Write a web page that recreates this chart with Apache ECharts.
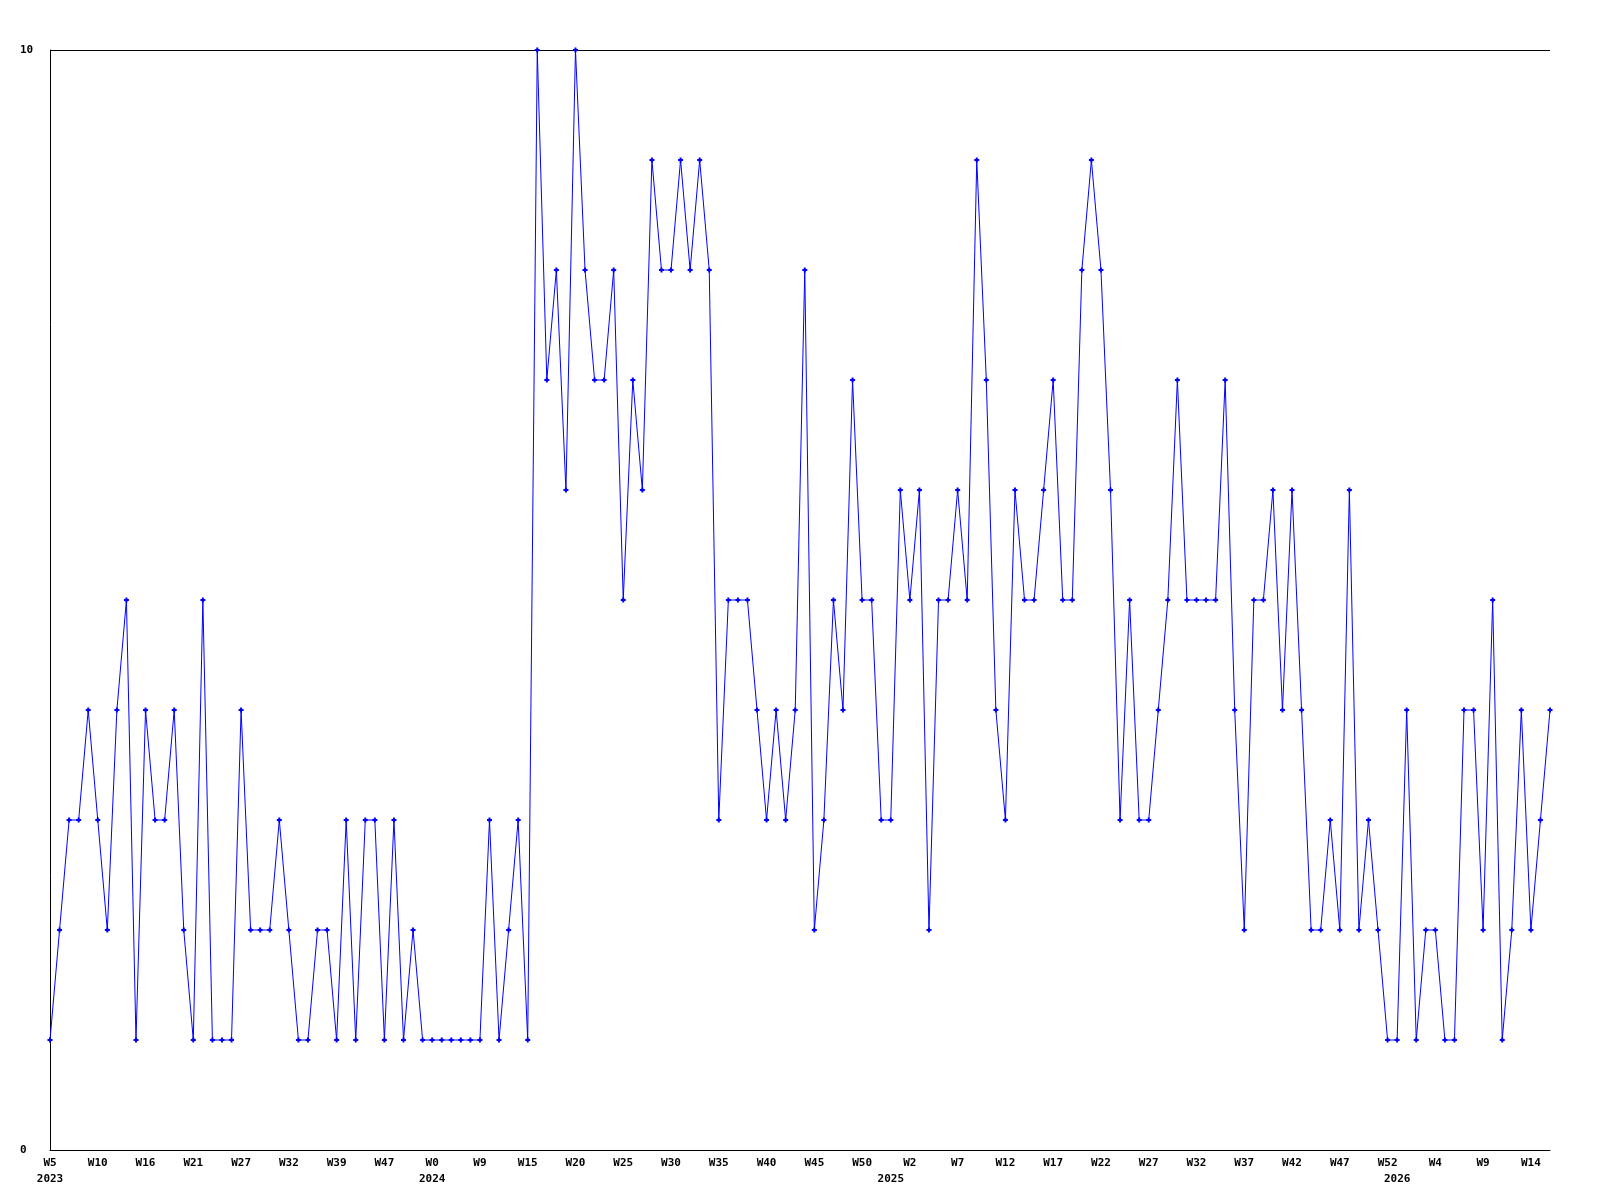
<!DOCTYPE html>
<html>
<head>
<meta charset="utf-8">
<script src="https://cdn.jsdelivr.net/npm/echarts@6/dist/echarts.min.js"></script>
<style>
html,body{margin:0;padding:0;background:#fff;}
#chart{width:1600px;height:1200px;}
</style>
</head>
<body>
<div id="chart"></div>
<script>
// Weekly values (one per point, left to right)
const values = [
  1,2,3,3,4,3,2,4,5,1, 4,3,3,4,2,1,5,1,1,1,
  4,2,2,2,3,2,1,1,2,2, 1,3,1,3,3,1,3,1,2,1,
  1,1,1,1,1,1,3,1,2,3, 1,
  10,7,8,6,10,8,7,7,8,5, 7,6,9,8,8,9,8,9,8,
  3,5,5,5,4,3,4,3,4,8, 2,3,5,4,7,5,5,3,3,6,
  5,6,2,5,5,6,5,9,7,4, 3,6,5,5,6,
  7,5,5,8,9,8,6,3,5,3, 3,4,5,7,5,5,5,5,7,4,
  2,5,5,6,4,6,4,2,2,3, 2,6,2,3,2,1,1,
  4,1,2,2,1,1,4,4,2,5, 1,2,4,2,3,4
];
// Week tick labels, one every 5 points
const weekTicks = ['W5','W10','W16','W21','W27','W32','W39','W47','W0','W9','W15',
  'W20','W25','W30','W35','W40','W45','W50','W2','W7','W12','W17','W22','W27',
  'W32','W37','W42','W47','W52','W4','W9','W14'];
const weekTickStep = 5;
// Year labels and the point index under which each sits
const yearTickIndex = [0, 40, 88, 141];
const yearTickText = ['2023','2024','2025','2026'];
// Y axis ticks
const yMin = 0, yMax = 10, yInterval = 10;

const categories = values.map((v, i) => String(i));

const font = {fontFamily: 'DejaVu Sans Mono', fontWeight: 'bold', fontSize: 11, color: '#000'};

const chart = echarts.init(document.getElementById('chart'), null, {renderer: 'canvas'});
chart.setOption({
  animation: false,
  backgroundColor: '#ffffff',
  grid: {left: 50, right: 50, top: 50, bottom: 50, containLabel: false},
  xAxis: [{
    type: 'category',
    data: categories,
    boundaryGap: false,
    axisLine: {show: true, lineStyle: {color: '#000', width: 1}},
    axisTick: {show: false},
    splitLine: {show: false},
    axisLabel: Object.assign({
      interval: weekTickStep - 1,
      margin: 8,
      formatter: (val, idx) => (idx % weekTickStep === 0 ? weekTicks[idx / weekTickStep] : '')
    }, font)
  }, {
    type: 'category',
    data: categories,
    position: 'bottom',
    offset: 16,
    boundaryGap: false,
    axisLine: {show: false},
    axisTick: {show: false},
    splitLine: {show: false},
    axisLabel: Object.assign({
      interval: (idx) => yearTickIndex.indexOf(idx) >= 0,
      margin: 8,
      formatter: (val, idx) => {
        const k = yearTickIndex.indexOf(idx);
        return k >= 0 ? yearTickText[k] : '';
      }
    }, font)
  }],
  yAxis: {
    type: 'value',
    min: yMin, max: yMax, interval: yInterval,
    axisLine: {show: true, lineStyle: {color: '#000', width: 1}},
    axisTick: {show: false},
    splitLine: {show: true, lineStyle: {color: '#000', width: 1}},
    axisLabel: Object.assign({align: 'left', margin: 30}, font)
  },
  series: [{
    type: 'line',
    data: values,
    xAxisIndex: 0,
    showSymbol: true,
    showAllSymbol: true,
    symbol: 'path://M1.5,0H3.5V1.5H5V3.5H3.5V5H1.5V3.5H0V1.5H1.5Z',
    symbolSize: 5,
    itemStyle: {color: '#0000ff'},
    lineStyle: {color: '#0000ff', width: 1},
    emphasis: {disabled: true}
  }]
});
</script>
</body>
</html>
